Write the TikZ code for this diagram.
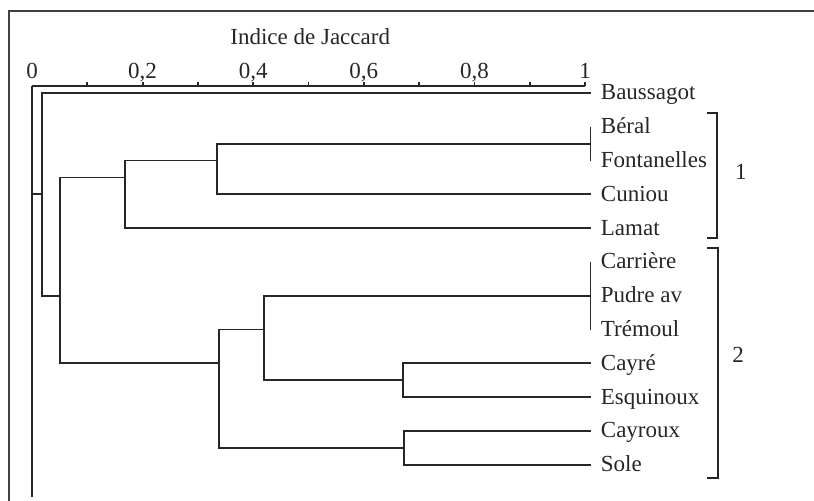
\documentclass[tikz,border=0pt]{standalone}
\usepackage{fontspec}
\setmainfont{Liberation Serif}
\usetikzlibrary{positioning}
\tikzset{
  tree/.style={line width=0.9pt, color=black!85},
  frame/.style={line width=1pt, color=black!75},
  bracket/.style={line width=0.9pt, color=black!85},
  lab/.style={inner sep=2pt, text=black!85, font=\fontsize{11.5}{13}\selectfont},
  leaf/.style={lab, inner sep=0pt, text height=7pt, text depth=0pt}
}
\begin{document}
\begin{tikzpicture}[x=276.5pt, y=16.9pt]
\useasboundingbox (-0.0579,-13.071) rectangle (1.4141,1.7515);
\draw[frame] (1.4141,1.426) -| (-0.0416,-13.071);
\node[lab] (title) at (0.503,0.657) {Indice de Jaccard};
\coordinate (o) at (0,-0.793);
\coordinate (e) at (1,-0.793);
\coordinate (ob) at (0,-12.95);
\draw[tree] (o) -- (e);
\draw[tree] (o) -- (ob);
\foreach \v in {1,...,10} \draw[tree] (\v/10,-0.793) -- ++(0,2pt);
\foreach \v/\t [count=\i] in {0/0, 0.2/{0,2}, 0.4/{0,4}, 0.6/{0,6}, 0.8/{0,8}, 1/1}
  \node[lab, anchor=base, yshift=3.6pt] (tick\i) at (\v,-0.793) {\t};
\foreach \n/\t [count=\i] in {bau/Baussagot, ber/Béral, fon/Fontanelles, cun/Cuniou,
    lam/Lamat, car/Carrière, pud/Pudre av, tre/Trémoul, cay/Cayré, esq/Esquinoux,
    cyx/Cayroux, sol/Sole}
{
  \coordinate (\n) at (1.01,-\i);
  \node[leaf, right=5pt of \n] (\n lab) {\t};
}
\coordinate (bf) at (1.01,-2.5);
\coordinate (bfc) at (0.335,-3);
\coordinate (k1) at (0.168,-3.5);
\coordinate (cpt) at (1.01,-7);
\coordinate (cpe) at (0.42,-8);
\coordinate (ce) at (0.671,-9.5);
\coordinate (cs) at (0.673,-11.5);
\coordinate (k2) at (0.338,-9);
\coordinate (k12) at (0.05,-7);
\coordinate (root) at (0.018,-4);
\draw[tree] (ber) -- (fon);
\draw[tree] (car) -- (tre);
\draw[tree] (bf) -| (bfc) |- (cun);
\draw[tree] (bfc) -| (k1) |- (lam);
\draw[tree] (cpt) -| (cpe) |- (ce);
\draw[tree] (cay) -| (ce) |- (esq);
\draw[tree] (cyx) -| (cs) |- (sol);
\draw[tree] (cpe) -| (k2) |- (cs);
\draw[tree] (k1) -| (k12) |- (k2);
\draw[tree] (bau) -| (root) |- (k12);
\draw[tree] (root) -- (root -| o);
\draw[bracket] (1.221,-1.592) -| (1.239,-5.29) -- (1.221,-5.29);
\draw[bracket] (1.221,-5.586) -| (1.240,-12.39) -- (1.221,-12.39);
\node[lab] (g1) at (1.282,-3.337) {1};
\node[lab] (g2) at (1.277,-8.751) {2};
\end{tikzpicture}
\end{document}
